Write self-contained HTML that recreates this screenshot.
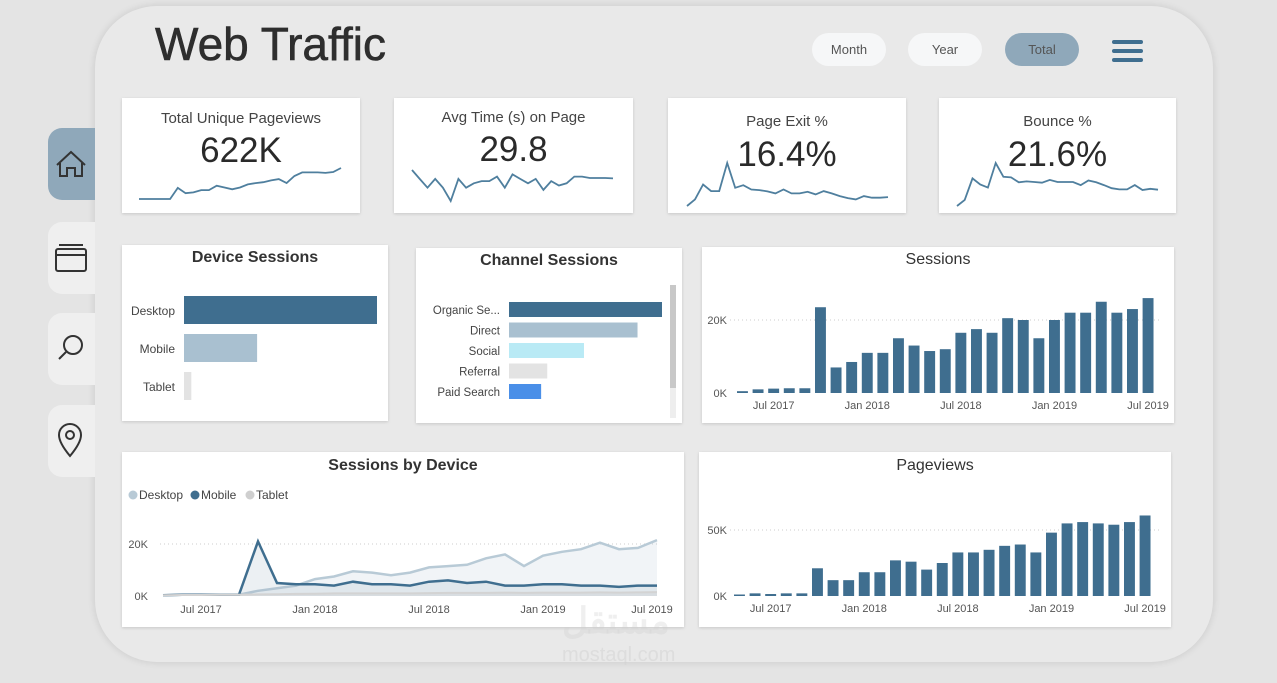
<!DOCTYPE html>
<html><head><meta charset="utf-8">
<style>
body{margin:0;width:1277px;height:683px;background:#e4e4e4;font-family:"Liberation Sans",sans-serif;overflow:hidden;position:relative}
.abs{position:absolute}
.panel{left:95px;top:6px;width:1118px;height:656px;border-radius:62px;background:#e9e9e9;box-shadow:0 0 8px rgba(0,0,0,.12)}
.tab{left:48px;width:47px;height:72px;border-radius:14px 0 0 14px;background:#efefef}
.card{background:#fff;box-shadow:0 1px 3px rgba(0,0,0,.15)}
.btn{height:33px;width:74px;border-radius:17px;background:#f6f7f8;font-size:13px;color:#555;text-align:center;line-height:33px}
.ktitle{font-size:15px;color:#444;text-align:center;width:100%;position:absolute}
.kval{font-size:35px;color:#2a2a2a;text-align:center;width:100%;position:absolute}
.ctitle{font-size:16px;font-weight:bold;color:#333;text-align:center;width:100%;position:absolute}
svg{position:absolute;left:0;top:0}
</style></head><body>
<div class="abs panel"></div>
<div class="abs tab" style="top:128px;background:#8fa8ba"></div>
<div class="abs tab" style="top:222px"></div>
<div class="abs tab" style="top:313px"></div>
<div class="abs tab" style="top:405px"></div>
<svg width="1277" height="683" fill="none" stroke="#333" stroke-width="2">
<path d="M57 165 L71 152 L85 165 M60 163 V176 H67 V168 H75 V176 H82 V163"/>
<rect x="56" y="249" width="30" height="22" rx="2"/><line x1="56" y1="255" x2="86" y2="255"/><line x1="59" y1="245" x2="83" y2="245"/>
<circle cx="73" cy="345" r="9"/><line x1="66" y1="352" x2="59" y2="359"/>
<path d="M70 456 C60 444 59 438 59 435 A11 11 0 0 1 81 435 C81 438 80 444 70 456Z"/><circle cx="70" cy="435" r="4"/>
</svg>
<div class="abs" style="left:155px;top:17px;font-size:46px;color:#2e2e2e;-webkit-text-stroke:0.6px #2e2e2e">Web Traffic</div>
<div class="abs btn" style="left:812px;top:33px">Month</div>
<div class="abs btn" style="left:908px;top:33px">Year</div>
<div class="abs btn" style="left:1005px;top:33px;background:#8fa8ba">Total</div>
<svg width="1277" height="683"><g stroke="#3f6e8f" stroke-width="4" stroke-linecap="round"><line x1="1114" y1="42" x2="1141" y2="42"/><line x1="1114" y1="51" x2="1141" y2="51"/><line x1="1114" y1="60" x2="1141" y2="60"/></g></svg>

<div class="abs card" style="left:122px;top:98px;width:238px;height:115px"><div class="ktitle" style="top:12px">Total Unique Pageviews</div><div class="kval" style="top:33px">622K</div></div>
<div class="abs card" style="left:394px;top:98px;width:239px;height:115px"><div class="ktitle" style="top:11px">Avg Time (s) on Page</div><div class="kval" style="top:32px">29.8</div></div>
<div class="abs card" style="left:668px;top:98px;width:238px;height:115px"><div class="ktitle" style="top:15px">Page Exit %</div><div class="kval" style="top:37px">16.4%</div></div>
<div class="abs card" style="left:939px;top:98px;width:237px;height:115px"><div class="ktitle" style="top:15px">Bounce %</div><div class="kval" style="top:37px">21.6%</div></div>

<div class="abs card" style="left:122px;top:245px;width:266px;height:176px"><div class="ctitle" style="top:4px">Device Sessions</div></div>
<div class="abs card" style="left:416px;top:248px;width:266px;height:175px"><div class="ctitle" style="top:4px">Channel Sessions</div></div>
<div class="abs card" style="left:702px;top:247px;width:472px;height:176px"><div class="ctitle" style="top:4px;font-weight:normal;font-size:16px">Sessions</div></div>
<div class="abs card" style="left:122px;top:452px;width:562px;height:175px"><div class="ctitle" style="top:5px">Sessions by Device</div></div>
<div class="abs card" style="left:699px;top:452px;width:472px;height:175px"><div class="ctitle" style="top:5px;font-weight:normal">Pageviews</div></div>

<svg id="ch" width="1277" height="683"></svg>
<div class="abs" style="left:562px;top:600px;font-size:36px;color:rgba(210,210,210,.35);font-weight:bold">مستقل</div>
<div class="abs" style="left:562px;top:644px;font-size:20px;color:rgba(210,210,210,.5)">mostaql.com</div>
<script>
const sparkUnique=[1,1,1,1,1,3.5,2.3,2.5,3,3,4,3.6,3.2,3.6,4.3,4.6,4.8,5.2,5.5,4.6,6.2,7,7,7,6.9,7.1,8];
const sparkTime=[9,7,5,7,5,2,7,5,6,6.5,6.5,7.5,5,8,7,6,7,4.5,6.5,5.5,6,7.5,7.5,7.2,7.2,7.2,7.1];
const sparkExit=[1,3,7.5,5.5,5.5,14,6.5,7.3,6,5.8,5.4,4.8,6,4.8,4.8,5.3,4.5,5.5,4.8,4,3.4,3,4,3.5,3.5,3.7];
const sparkBounce=[1,3,10,8,7,15,10.5,10.3,8.7,9,8.8,8.6,9.5,8.8,8.8,8.8,7.8,9.3,8.7,7.8,6.8,6.4,6.4,7.8,6.2,6.6,6.3];
const devCats=['Desktop','Mobile','Tablet'],devVals=[66,25,2.5];
const chCats=['Organic Se...','Direct','Social','Referral','Paid Search'],chVals=[100,84,49,25,21];
const chColors=['#3f6e8f','#a9c0d0','#b9eaf5','#e3e3e3','#4a8fe8'];
const sessions=[0.5,1,1.2,1.3,1.3,23.5,7,8.5,11,11,15,13,11.5,12,16.5,17.5,16.5,20.5,20,15,20,22,22,25,22,23,26];
const pageviews=[1,2,1.5,2,2,21,12,12,18,18,27,26,20,25,33,33,35,38,39,33,48,55,56,55,54,56,61];
const desktop=[0.3,0.5,0.5,0.5,0.5,2,3,4,6.5,7.5,9.5,9,8,9,11,11.5,12,14.5,16,11.5,15.5,17,18,20.5,18,18.5,21.5];
const mobile=[0.3,0.5,0.5,0.5,0.5,21,5,4.5,4.5,4,5.5,4.5,4.5,4,5.5,6,5,5.5,4,4,4.5,4.5,4,4,3.5,4,4];
const tablet=[0.3,0.4,0.4,0.5,0.5,0.6,0.7,0.8,0.9,1,1,1,1,1,1.1,1.2,1.2,1.2,1.3,1.2,1.3,1.3,1.3,1.4,1.3,1.4,1.5];
const dateLabels=['Jul 2017','Jan 2018','Jul 2018','Jan 2019','Jul 2019'];const dateIdx=[2,8,14,20,26];
const svg=document.getElementById('ch');const NS='http://www.w3.org/2000/svg';
function mk(t,a,txt){const e=document.createElementNS(NS,t);for(const k in a)e.setAttribute(k,a[k]);if(txt!==undefined)e.textContent=txt;svg.appendChild(e);return e;}
function spark(arr,x0,x1,y0,y1,name){const mx=Math.max(...arr),mn=Math.min(...arr);const p=arr.map((v,i)=>(x0+(x1-x0)*i/(arr.length-1)).toFixed(1)+','+(y0-(y0-y1)*(v-mn)/(mx-mn)).toFixed(1)).join(' ');
const e=mk('polyline',{points:p,fill:'none',stroke:'#4f7f9e','stroke-width':1.8});

}
spark(sparkUnique,139,341,199,168,'sparkline-unique');
spark(sparkTime,412,613,201,170,'sparkline-time');
spark(sparkExit,687,888,206,163,'sparkline-exit');
spark(sparkBounce,957,1158,206,163,'sparkline-bounce');
devCats.forEach((c,i)=>{const y=296+i*38,w=devVals[i]/devVals[0]*193;
const r=mk('rect',{x:184,y:y,width:w,height:28,fill:['#3f6e8f','#a9c0d0','#e3e3e3'][i]});


mk('text',{x:175,y:y+19,'text-anchor':'end','font-size':12,fill:'#444'},c);});
chCats.forEach((c,i)=>{const y=302+i*20.5,w=chVals[i]/100*153;
const r=mk('rect',{x:509,y:y,width:w,height:15,fill:chColors[i]});


mk('text',{x:500,y:y+12,'text-anchor':'end','font-size':11.5,fill:'#444'},c);});
mk('rect',{x:670,y:285,width:6,height:133,fill:'#eee'});mk('rect',{x:670,y:285,width:6,height:103,fill:'#c8c8c8'});
function bars(arr,x0,step,base,scale,tickV,tickLbl,name){
mk('line',{x1:730,x2:1160,y1:base-tickV*scale,y2:base-tickV*scale,stroke:'#ccc','stroke-dasharray':'1 3'});
mk('text',{x:727,y:base+4,'text-anchor':'end','font-size':11,fill:'#555'},'0K');
mk('text',{x:727,y:base-tickV*scale+4,'text-anchor':'end','font-size':11,fill:'#555'},tickLbl);
arr.forEach((v,i)=>{const h=Math.max(v*scale,1.5);const r=mk('rect',{x:x0+i*step,y:base-h,width:step*0.7,height:h,fill:'#3f6e8f'});

});
dateIdx.forEach((d,j)=>mk('text',{x:x0+d*step+step*0.35,y:base+16,'text-anchor':'middle','font-size':11,fill:'#555'},dateLabels[j]));}
bars(sessions,737,15.6,393,73/20,20,'20K','sessions');
bars(pageviews,734,15.6,596,66/50,50,'50K','pageviews');
const sx=i=>163+i*19,sy=v=>596-v*52/20;
mk('line',{x1:160,x2:660,y1:sy(20),y2:sy(20),stroke:'#ccc','stroke-dasharray':'1 3'});
mk('text',{x:148,y:600,'text-anchor':'end','font-size':11,fill:'#555'},'0K');
mk('text',{x:148,y:sy(20)+4,'text-anchor':'end','font-size':11,fill:'#555'},'20K');
function area(arr,col,fill,w,name){const p=arr.map((v,i)=>sx(i).toFixed(1)+','+sy(v).toFixed(1)).join(' ');
mk('polygon',{points:sx(0)+',596 '+p+' '+sx(arr.length-1)+',596',fill:fill});
const l=mk('polyline',{points:p,fill:'none',stroke:col,'stroke-width':w});

}
area(desktop,'#b8cad6','rgba(200,212,222,0.25)',2.5,'desktop-line');
area(mobile,'#3f6e8f','rgba(160,180,195,0.2)',2.5,'mobile-line');
area(tablet,'#d3d3d3','rgba(200,200,200,0.3)',2,'tablet-line');
dateIdx.forEach((d,j)=>mk('text',{x:sx(d)+(j==4?-5:0),y:613,'text-anchor':'middle','font-size':11,fill:'#555'},dateLabels[j]));
[['Desktop','#b8cad6',133],['Mobile','#3f6e8f',195],['Tablet','#cfcfcf',250]].forEach(l=>{mk('circle',{cx:l[2],cy:495,r:4.5,fill:l[1]});mk('text',{x:l[2]+6,y:499,'font-size':12,fill:'#444'},l[0]);});
</script>
</body></html>
